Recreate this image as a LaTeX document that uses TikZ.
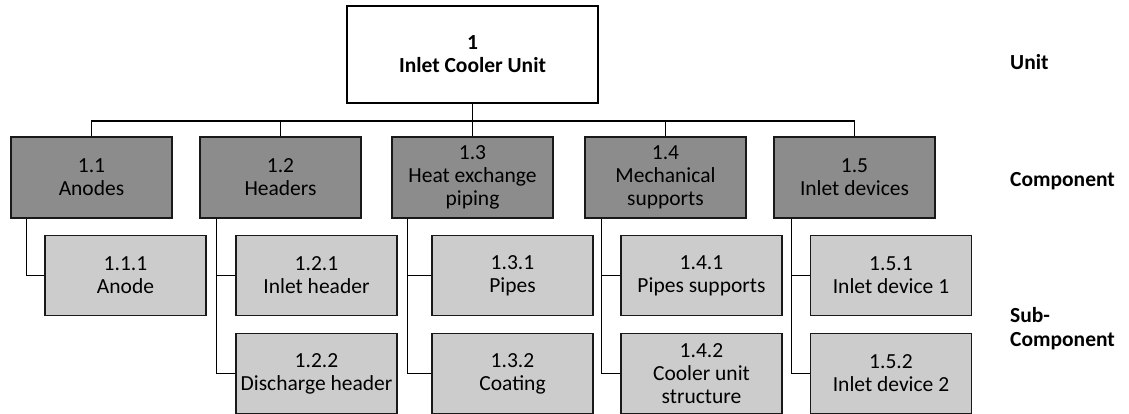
\documentclass[tikz,border=0pt]{standalone}
\usepackage{fontspec}
\setmainfont{Carlito}
\begin{document}
\begin{tikzpicture}[x=1pt,y=-1pt,
  every node/.style={inner sep=0pt, align=center, font=\fontsize{21.5}{23}\selectfont},
  unitbox/.style={draw=black, line width=1.3pt, fill=white, minimum width=251pt, minimum height=97pt, font=\fontsize{21.5}{23}\selectfont\bfseries},
  compbox/.style={draw=black!90, line width=1.3pt, fill=black!45, minimum width=161pt, minimum height=81pt},
  subbox/.style={draw=black!90, line width=1.3pt, fill=black!20, minimum width=161pt, minimum height=80pt},
  conn/.style={line width=1.6pt, black},
  lab/.style={anchor=west, align=left, font=\fontsize{21.5}{24}\selectfont\bfseries}]
\useasboundingbox (0,0) rectangle (1129,414);
% unit
\node[unitbox] (u) at (472.5,54.5) {1\\Inlet Cooler Unit};
% components
\node[compbox] (c1) at (91.5,177.5) {1.1\\Anodes};
\node[compbox] (c2) at (280.5,177.5) {1.2\\Headers};
\node[compbox] (c3) at (472.5,177.5) {1.3\\Heat exchange\\piping};
\node[compbox] (c4) at (665.5,177.5) {1.4\\Mechanical\\supports};
\node[compbox] (c5) at (854.5,177.5) {1.5\\Inlet devices};
% sub-components
\node[subbox] (s11) at (125.5,275.5) {1.1.1\\Anode};
\node[subbox] (s21) at (316.5,275.5) {1.2.1\\Inlet header};
\node[subbox] (s22) at (316.5,373.5) {1.2.2\\Discharge header};
\node[subbox] (s31) at (512.5,275.5) {1.3.1\\Pipes};
\node[subbox] (s32) at (512.5,373.5) {1.3.2\\Coating};
\node[subbox] (s41) at (701.5,275.5) {1.4.1\\Pipes supports};
\node[subbox] (s42) at (701.5,373.5) {1.4.2\\Cooler unit\\structure};
\node[subbox] (s51) at (891,275.5) {1.5.1\\Inlet device 1};
\node[subbox] (s52) at (891,373.5) {1.5.2\\Inlet device 2};
% level labels
\node[lab] (lu) at (1010,62) {Unit};
\node[lab] (lc) at (1010,181) {Component};
\node[lab] (ls) at (1010,329) {Sub-\\Component};
% connectors
\coordinate (bus) at (472.5,121);
\foreach \c in {c1,c2,c3,c4,c5}{
  \draw[conn] (u.south) -- (bus) -| (\c.north);
}
\draw[conn] ([xshift=16pt]c1.south west) |- (s11.west);
\draw[conn] ([xshift=17pt]c2.south west) |- (s21.west);
\draw[conn] ([xshift=17pt]c2.south west) |- (s22.west);
\draw[conn] ([xshift=16pt]c3.south west) |- (s31.west);
\draw[conn] ([xshift=16pt]c3.south west) |- (s32.west);
\draw[conn] ([xshift=17pt]c4.south west) |- (s41.west);
\draw[conn] ([xshift=17pt]c4.south west) |- (s42.west);
\draw[conn] ([xshift=18pt]c5.south west) |- (s51.west);
\draw[conn] ([xshift=18pt]c5.south west) |- (s52.west);
\end{tikzpicture}
\end{document}
